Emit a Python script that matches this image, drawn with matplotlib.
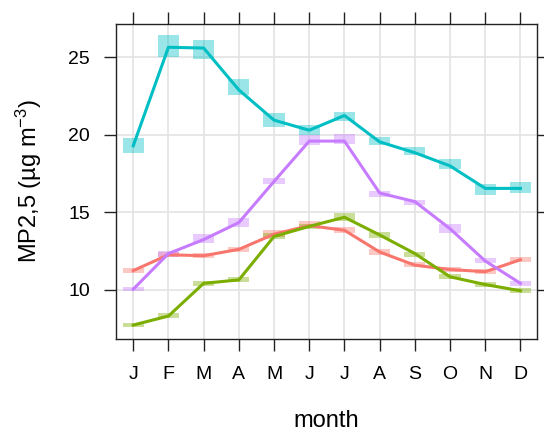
import matplotlib
matplotlib.use("Agg")
import matplotlib.pyplot as plt
from matplotlib.patches import Rectangle

plt.rcParams['font.family'] = ['Liberation Sans', 'DejaVu Sans']
plt.rcParams['mathtext.fontset'] = 'custom'
plt.rcParams['mathtext.rm'] = 'Liberation Sans'
plt.rcParams['mathtext.it'] = 'Liberation Sans:italic'
plt.rcParams['mathtext.default'] = 'rm'

months = ["J", "F", "M", "A", "M", "J", "J", "A", "S", "O", "N", "D"]
month_num = list(range(1, 13))

red_mean = [11.25, 12.27, 12.21, 12.62, 13.6, 14.15, 13.85, 12.45, 11.6, 11.32, 11.18, 11.95]
red_low = [11.12, 12.11, 12.08, 12.47, 13.44, 14.0, 13.66, 12.26, 11.5, 11.18, 11.03, 11.79]
red_up = [11.4, 12.43, 12.37, 12.8, 13.87, 14.42, 14.04, 12.62, 11.79, 11.46, 11.33, 12.1]

green_mean = [7.74, 8.32, 10.43, 10.65, 13.45, 14.1, 14.69, 13.55, 12.35, 10.85, 10.35, 9.95]
green_low = [7.61, 8.17, 10.26, 10.5, 13.3, 13.95, 14.48, 13.37, 12.15, 10.69, 10.21, 9.78]
green_up = [7.89, 8.49, 10.58, 10.82, 13.65, 14.25, 14.95, 13.76, 12.47, 11.0, 10.53, 10.15]

cyan_mean = [19.3, 25.65, 25.6, 22.9, 20.95, 20.3, 21.25, 19.55, 18.85, 18.0, 16.55, 16.55]
cyan_low = [18.82, 25.0, 24.88, 22.58, 20.5, 20.0, 20.9, 19.35, 18.7, 17.78, 16.13, 16.28]
cyan_up = [19.79, 26.45, 26.13, 23.59, 21.4, 20.65, 21.5, 19.89, 19.2, 18.43, 16.84, 16.95]

purple_mean = [10.05, 12.35, 13.25, 14.35, 17.0, 19.6, 19.6, 16.25, 15.7, 13.95, 11.87, 10.43]
purple_low = [9.94, 12.15, 13.05, 14.09, 16.82, 19.35, 19.4, 16.0, 15.48, 13.7, 11.72, 10.26]
purple_up = [10.21, 12.54, 13.59, 14.62, 17.25, 20.0, 20.05, 16.4, 15.8, 14.24, 12.04, 10.58]

series = [
    (red_mean, red_low, red_up, "#F8766D"),
    (green_mean, green_low, green_up, "#7CAE00"),
    (cyan_mean, cyan_low, cyan_up, "#00BFC4"),
    (purple_mean, purple_low, purple_up, "#C77CFF"),
]

fig = plt.figure(figsize=(5.44, 4.32), dpi=100)
ax = fig.add_axes([116 / 544, 93 / 432, 421 / 544, 315 / 432])

ax.set_xlim(0.51, 12.47)
ax.set_ylim(6.84, 27.15)

yticks = [10, 15, 20, 25]
ax.set_xticks(month_num)
ax.set_xticklabels(months)
ax.set_yticks(yticks)

for x in month_num:
    ax.axvline(x, color="#e3e3e3", lw=1.2, zorder=0)
for y in yticks:
    ax.axhline(y, color="#e3e3e3", lw=1.2, zorder=0)

w = 0.6
for mean, low, up, col in series:
    for x, lo, hi in zip(month_num, low, up):
        ax.add_patch(Rectangle((x - w / 2, lo), w, hi - lo, facecolor=col,
                               edgecolor="none", alpha=0.4, zorder=1))
for mean, low, up, col in series:
    ax.plot(month_num, mean, color=col, lw=2.2, zorder=3)

for s in ax.spines.values():
    s.set_color("#222222")
    s.set_linewidth(1.0)

ax.tick_params(axis="both", which="both", direction="out", length=8.6, width=1.0,
               color="#222222", labelsize=14, top=True, right=True,
               labeltop=False, labelright=False)
ax.tick_params(axis="x", pad=11)
ax.tick_params(axis="y", pad=10)

ax.set_xlabel("month", fontsize=17)
ax.set_ylabel("MP2,5 (µg m$^{-3}$)", fontsize=17)
ax.xaxis.set_label_coords(0.5, -0.225)
ax.yaxis.set_label_coords(-0.17, 0.5)

fig.savefig("out.png", dpi=100)
